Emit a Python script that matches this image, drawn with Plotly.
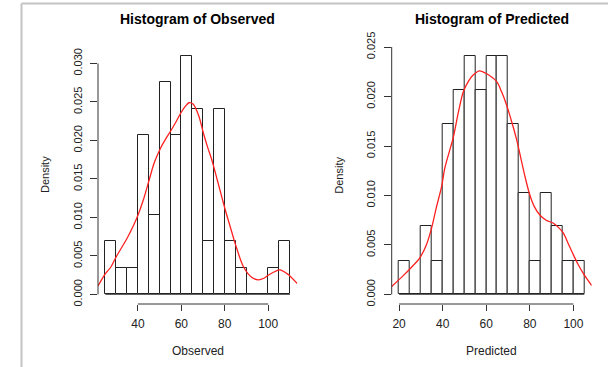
import plotly.graph_objects as go

# ---------------- data ----------------
BIN_WIDTH = 5

obs_bin_start = [25, 30, 35, 40, 45, 50, 55, 60, 65, 70, 75, 80, 85, 90, 95, 100, 105]
obs_density = [0.0069, 0.0034, 0.0034, 0.0207, 0.0103, 0.0276, 0.0207, 0.0310, 0.0241,
               0.0069, 0.0241, 0.0069, 0.0034, 0.0, 0.0, 0.0034, 0.0069]

pred_bin_start = [20, 25, 30, 35, 40, 45, 50, 55, 60, 65, 70, 75, 80, 85, 90, 95, 100]
pred_density = [0.0034, 0.0, 0.0069, 0.0034, 0.0172, 0.0207, 0.0241, 0.0207, 0.0241,
                0.0241, 0.0172, 0.0103, 0.0034, 0.0103, 0.0069, 0.0034, 0.0034]

obs_kde_x = [21.6, 25.0, 27.6, 30.0, 35.0, 38.0, 40.0, 42.5, 45.0, 47.5, 50.4, 53.0, 55.0,
             57.5, 59.6, 62.0, 63.5, 65.5, 68.0, 70.2, 72.0, 74.1, 76.6, 80.2, 82.5, 84.8,
             88.6, 92.5, 95.5, 98.0, 100.0, 105.3, 109.2, 113.4]
obs_kde_y = [0.0011, 0.0027, 0.0036, 0.0049, 0.0073, 0.0090, 0.0103, 0.0123, 0.0147, 0.0171,
             0.0190, 0.0203, 0.0212, 0.0224, 0.0235, 0.0245, 0.0249, 0.0247, 0.0232, 0.0209,
             0.0192, 0.0174, 0.0148, 0.0110, 0.0088, 0.0066, 0.0036, 0.0022, 0.0019, 0.0021,
             0.0025, 0.0032, 0.0026, 0.0014]

pred_kde_x = [16.6, 21.9, 25.5, 29.5, 32.5, 34.9, 37.0, 39.5, 41.0, 44.9, 47.0, 49.5, 52.0,
              54.1, 56.9, 60.2, 64.8, 67.0, 69.4, 72.0, 74.0, 77.8, 79.8, 82.0, 84.7, 87.5,
              90.8, 93.0, 95.4, 97.5, 100.0, 102.0, 104.6, 108.4]
pred_kde_y = [0.0008, 0.0019, 0.0027, 0.0037, 0.0050, 0.0067, 0.0087, 0.0109, 0.0128, 0.0159,
              0.0182, 0.0205, 0.0216, 0.0222, 0.0226, 0.0223, 0.0215, 0.0205, 0.0191, 0.0172,
              0.0156, 0.0119, 0.0102, 0.0089, 0.0080, 0.0075, 0.0072, 0.0068, 0.0062, 0.0052,
              0.0040, 0.0031, 0.0021, 0.0009]

obs_xticks = [40, 60, 80, 100]
pred_xticks = [20, 40, 60, 80, 100]
obs_yticks = [0.000, 0.005, 0.010, 0.015, 0.020, 0.025, 0.030]
pred_yticks = [0.000, 0.005, 0.010, 0.015, 0.020, 0.025]

titles = ["Histogram of Observed", "Histogram of Predicted"]
xlabels = ["Observed", "Predicted"]
ylabel = "Density"

# ---------------- figure ----------------
W, H = 608, 367
FONT = "Liberation Sans, Arial, Helvetica, sans-serif"
AX = "#333333"

fig = go.Figure()


def centers(starts):
    return [s + BIN_WIDTH / 2 for s in starts]


fig.add_trace(go.Bar(x=centers(obs_bin_start), y=obs_density, width=BIN_WIDTH,
                     marker=dict(color="white", line=dict(color="#222222", width=1)),
                     xaxis="x", yaxis="y", showlegend=False))
fig.add_trace(go.Scatter(x=obs_kde_x, y=obs_kde_y, mode="lines",
                         line=dict(color="#ff2020", width=1.3, shape="spline", smoothing=0.8),
                         xaxis="x", yaxis="y", showlegend=False, cliponaxis=True))
fig.add_trace(go.Bar(x=centers(pred_bin_start), y=pred_density, width=BIN_WIDTH,
                     marker=dict(color="white", line=dict(color="#222222", width=1)),
                     xaxis="x2", yaxis="y2", showlegend=False))
fig.add_trace(go.Scatter(x=pred_kde_x, y=pred_kde_y, mode="lines",
                         line=dict(color="#ff2020", width=1.3, shape="spline", smoothing=0.8),
                         xaxis="x2", yaxis="y2", showlegend=False, cliponaxis=True))


def px_x(p):
    return p / W


def px_y(p):
    return 1 - p / H


ydom = [px_y(304), px_y(46)]
x1dom = [px_x(98), px_x(297.3)]
x2dom = [px_x(391.7), px_x(591.7)]

xcommon = dict(showgrid=False, zeroline=False, showline=False, ticks="outside", ticklen=6,
               tickwidth=1, tickcolor=AX, tickfont=dict(family=FONT, size=12, color="#222"),
               ticklabelstandoff=3, automargin=False)
ycommon = dict(showgrid=False, zeroline=False, showline=False, ticks="outside", ticklen=7,
               tickwidth=1, tickcolor=AX, tickangle=-90, tickformat=".3f",
               tickfont=dict(family=FONT, size=11, color="#222"), ticklabelstandoff=4,
               automargin=False)

fig.update_layout(
    width=W, height=H, margin=dict(l=0, r=0, t=0, b=0, autoexpand=False),
    paper_bgcolor="white", plot_bgcolor="white", bargap=0,
    xaxis=dict(domain=x1dom, range=[21.6, 113.4], tickvals=obs_xticks, anchor="y", **xcommon),
    yaxis=dict(domain=ydom, range=[-0.00124, 0.03227], tickvals=obs_yticks, anchor="x", **ycommon),
    xaxis2=dict(domain=x2dom, range=[16.6, 108.4], tickvals=pred_xticks, anchor="y2", **xcommon),
    yaxis2=dict(domain=ydom, range=[-0.000966, 0.025107], tickvals=pred_yticks, anchor="x2", **ycommon),
)

shapes = []
# axis lines spanning first to last tick (R style)
shapes.append(dict(type="line", xref="x", yref="y domain", x0=obs_xticks[0], x1=obs_xticks[-1],
                   y0=0, y1=0, line=dict(color=AX, width=1)))
shapes.append(dict(type="line", xref="x2", yref="y2 domain", x0=pred_xticks[0], x1=pred_xticks[-1],
                   y0=0, y1=0, line=dict(color=AX, width=1)))
shapes.append(dict(type="line", xref="x domain", yref="y", x0=0, x1=0, y0=obs_yticks[0],
                   y1=obs_yticks[-1], line=dict(color=AX, width=1)))
shapes.append(dict(type="line", xref="x2 domain", yref="y2", x0=0, x1=0, y0=pred_yticks[0],
                   y1=pred_yticks[-1], line=dict(color=AX, width=1)))
# baseline under the histograms (zero-count bins drawn as lines)
shapes.append(dict(type="line", xref="x", yref="y", x0=obs_bin_start[0],
                   x1=obs_bin_start[-1] + BIN_WIDTH, y0=0, y1=0, line=dict(color="#555", width=1)))
shapes.append(dict(type="line", xref="x2", yref="y2", x0=pred_bin_start[0],
                   x1=pred_bin_start[-1] + BIN_WIDTH, y0=0, y1=0, line=dict(color="#555", width=1)))
# outer gray frame (top and left)
shapes.append(dict(type="line", xref="paper", yref="paper", x0=px_x(21.5), x1=1,
                   y0=px_y(3.5), y1=px_y(3.5), line=dict(color="#c4c4c4", width=2)))
shapes.append(dict(type="line", xref="paper", yref="paper", x0=px_x(21.5), x1=px_x(21.5),
                   y0=0, y1=px_y(3.5), line=dict(color="#c4c4c4", width=2)))
fig.update_layout(shapes=shapes)

annos = []
for i, dom in enumerate([x1dom, x2dom]):
    cx = (dom[0] + dom[1]) / 2
    annos.append(dict(text="<b>%s</b>" % titles[i], xref="paper", yref="paper", x=cx, y=px_y(19),
                      showarrow=False, xanchor="center", yanchor="middle",
                      font=dict(family=FONT, size=14, color="black")))
    annos.append(dict(text=xlabels[i], xref="paper", yref="paper", x=cx, y=px_y(351),
                      showarrow=False, xanchor="center", yanchor="middle",
                      font=dict(family=FONT, size=12, color="#222")))
    annos.append(dict(text=ylabel, xref="paper", yref="paper", x=dom[0] - px_x(53),
                      y=(ydom[0] + ydom[1]) / 2, showarrow=False, textangle=-90,
                      xanchor="center", yanchor="middle",
                      font=dict(family=FONT, size=11, color="#222")))
fig.update_layout(annotations=annos)

fig.write_html("out.html")
